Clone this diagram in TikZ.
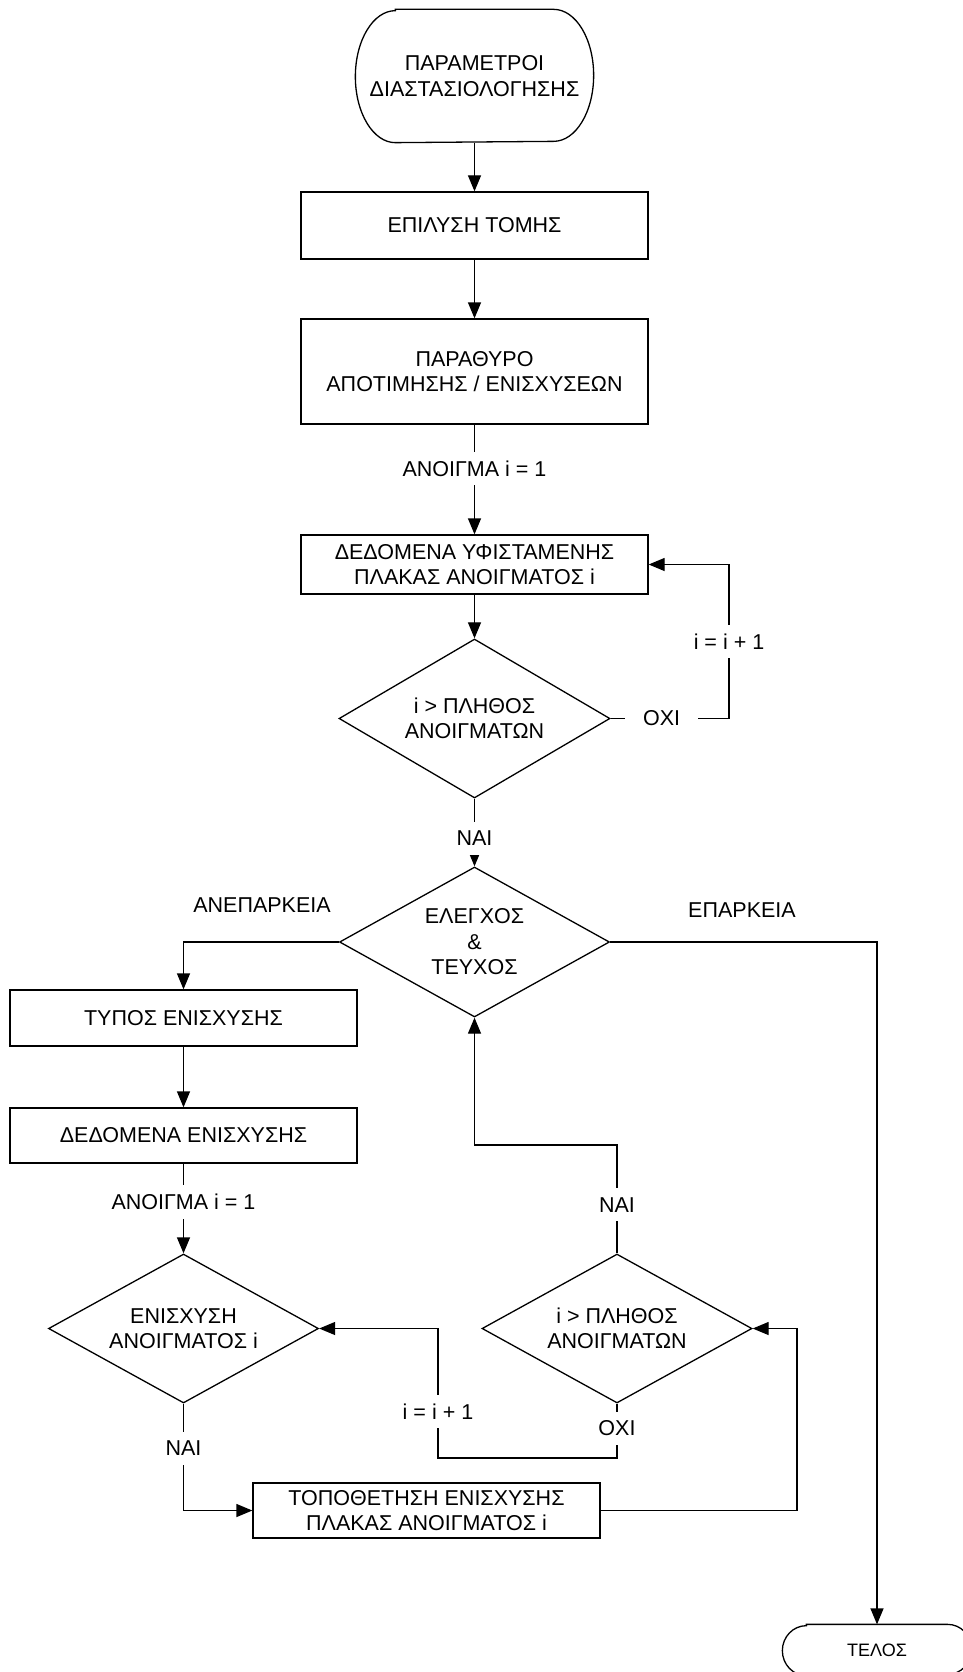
\documentclass[tikz,border=0pt]{standalone}
\usepackage{fontspec}
\setmainfont{Liberation Sans}
\usepackage{tikz}
\usetikzlibrary{
	arrows.meta,
	shapes.geometric
}
% outline of a terminator with elliptic ends
\newcommand{\termline}[3]{%
	\draw ([xshift=#2]#1.north west) -- ([xshift=-#2]#1.north east)
		arc[start angle=90, end angle=-90, x radius=#2, y radius=#3]
		-- ([xshift=#2]#1.south west)
		arc[start angle=270, end angle=90, x radius=#2, y radius=#3] -- cycle;}

\begin{document}
\begin{tikzpicture}[x=1pt, y=-1pt, line width=1.3pt,
	font=\fontsize{21.5pt}{25.5pt}\selectfont,
	>={Triangle[length=16pt, width=13pt]},
	box/.style={draw, rectangle, minimum width=347pt, align=center, inner sep=0pt},
	test/.style={draw, diamond, minimum width=270pt, minimum height=149pt, aspect=1.8, align=center, inner sep=0pt},
	term/.style={rectangle, align=center, inner sep=0pt},
	lbl/.style={fill=white, inner xsep=18pt, inner ysep=9pt},
	tag/.style={inner sep=0pt}]
	\useasboundingbox (0,0) rectangle (962,1672);
	% main column
	\node[term, minimum width=237pt, minimum height=132pt] (start) at (474.5,76) {ΠΑΡΑΜΕΤΡΟΙ\\ΔΙΑΣΤΑΣΙΟΛΟΓΗΣΗΣ};
	\termline{start}{40pt}{66pt}
	\node[box, minimum height=67pt] (solve) at (474.5,225.5) {ΕΠΙΛΥΣΗ ΤΟΜΗΣ};
	\node[box, minimum height=105pt] (window) at (474.5,371.5) {ΠΑΡΑΘΥΡΟ\\ΑΠΟΤΙΜΗΣΗΣ / ΕΝΙΣΧΥΣΕΩΝ};
	\node[box, minimum height=59pt] (exist) at (474.5,564.5) {ΔΕΔΟΜΕΝΑ ΥΦΙΣΤΑΜΕΝΗΣ\\ΠΛΑΚΑΣ ΑΝΟΙΓΜΑΤΟΣ i};
	\node[test, minimum width=271pt, minimum height=159pt] (count1) at (474.5,718.5) {i > ΠΛΗΘΟΣ\\ΑΝΟΙΓΜΑΤΩΝ};
	\node[test, minimum height=150pt] (check) at (474.5,942) {ΕΛΕΓΧΟΣ\\\&\\ΤΕΥΧΟΣ};
	\node[tag] (short) at (262,905) {ΑΝΕΠΑΡΚΕΙΑ};
	\node[tag] (enough) at (742,910) {ΕΠΑΡΚΕΙΑ};
	% strengthening branch
	\node[box, minimum height=56pt] (type) at (183.5,1018) {ΤΥΠΟΣ ΕΝΙΣΧΥΣΗΣ};
	\node[box, minimum height=55pt] (rdata) at (183.5,1135.5) {ΔΕΔΟΜΕΝΑ ΕΝΙΣΧΥΣΗΣ};
	\node[test] (span) at (183.5,1328.5) {ΕΝΙΣΧΥΣΗ\\ΑΝΟΙΓΜΑΤΟΣ i};
	\node[test] (count2) at (617,1328.5) {i > ΠΛΗΘΟΣ\\ΑΝΟΙΓΜΑΤΩΝ};
	\node[box, minimum height=55pt] (place) at (426.5,1510.5) {ΤΟΠΟΘΕΤΗΣΗ ΕΝΙΣΧΥΣΗΣ\\ΠΛΑΚΑΣ ΑΝΟΙΓΜΑΤΟΣ i};
	\node[term, minimum width=188pt, minimum height=50pt, font=\fontsize{18pt}{21pt}\selectfont] (stop) at (877,1650) {ΤΕΛΟΣ};
	\termline{stop}{24pt}{25pt}
	% connectors
	\draw[->] (start) -- (solve);
	\draw[->] (solve) -- (window);
	\draw[->] (window) -- node[lbl, pos=0.4] (open1) {ΑΝΟΙΓΜΑ i = 1} (exist);
	\draw[->] (exist) -- (count1);
	\coordinate (loop1) at (729,640);
	\draw[->] (count1.east) -- node[lbl, pos=0.43] (no1) {ΟΧΙ} (count1.east -| loop1)
		-- node[lbl] (inc1) {i = i + 1} (exist.east -| loop1) -- (exist.east);
	\draw[->] (count1) -- node[lbl, pos=0.59] (yes1) {ΝΑΙ} (check);
	\draw[->] (check.west) -- (check.west -| type.north) -- (type.north);
	\draw[->] (check.east) -- (check.east -| stop.north) -- (stop.north);
	\draw[->] (type) -- (rdata);
	\draw[->] (rdata) -- node[lbl, pos=0.43] (open2) {ΑΝΟΙΓΜΑ i = 1} (span);
	\draw[->] (span.south) -- node[lbl, pos=0.42] (yes2) {ΝΑΙ} (span.south |- place.west) -- (place.west);
	\coordinate (loop2) at (797,1420);
	\draw[->] (place.east) -- (place.east -| loop2) -- (count2.east -| loop2) -- (count2.east);
	\coordinate (loop3) at (438,1458);
	\draw[->] (count2.south) -- node[lbl, pos=0.45] (no2) {ΟΧΙ} (count2.south |- loop3) -- (loop3)
		-- node[lbl, pos=0.36] (inc2) {i = i + 1} (span.east -| loop3) -- (span.east);
	\coordinate (back) at (617,1145);
	\draw[->] (count2.north) -- node[lbl, pos=0.45] (yes3) {ΝΑΙ} (back) -- (back -| check.south) -- (check.south);
\end{tikzpicture}
\end{document}
